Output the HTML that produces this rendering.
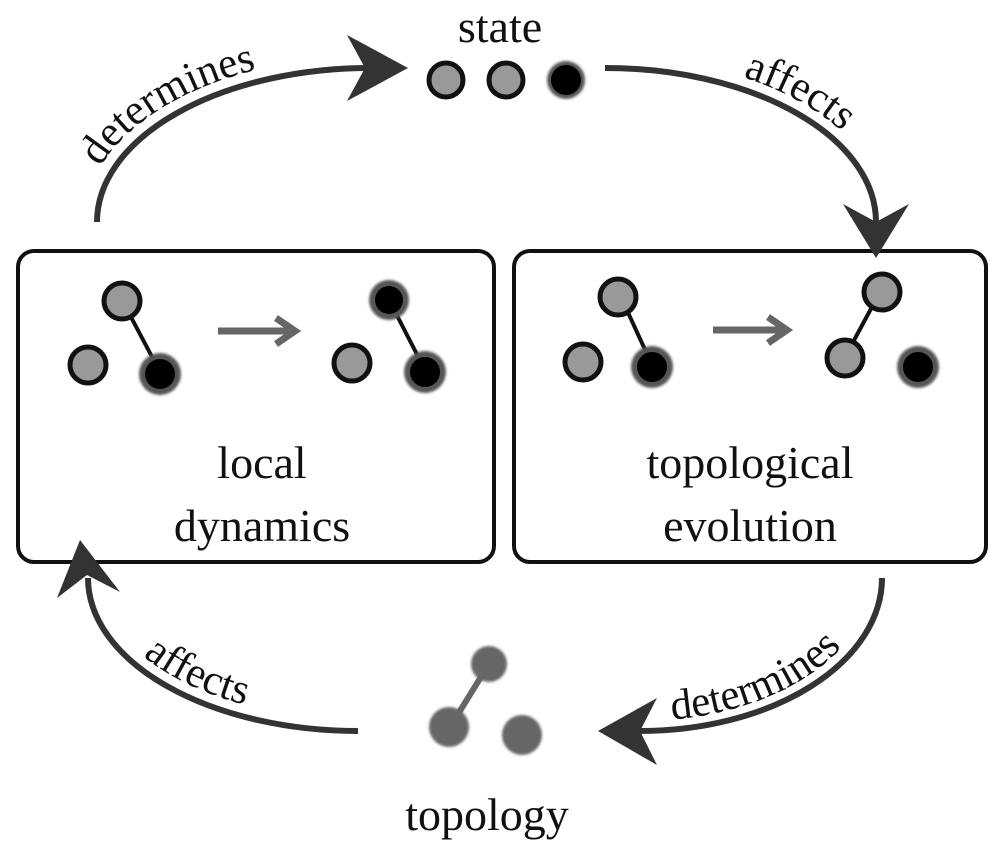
<!DOCTYPE html>
<html><head><meta charset="utf-8"><style>
html,body{margin:0;padding:0;background:#fff;}
svg{display:block;}
.t{font-family:"Liberation Serif","DejaVu Serif",serif;}
</style></head><body>
<svg width="997" height="847" viewBox="0 0 997 847" xmlns="http://www.w3.org/2000/svg">
<defs>
<filter id="b" x="-50%" y="-50%" width="200%" height="200%"><feGaussianBlur stdDeviation="1.2"/></filter>
<path id="p1" d="M84,222 A286,166 0 0 1 370,56"/>
<path id="p2" d="M605,56 A283,166 0 0 1 888,222"/>
<path id="p3" d="M640,721 A232,146 0 0 0 872,575"/>
<path id="p4" d="M100,578 A258,141 0 0 0 358,719"/>
</defs>
<rect x="18" y="251" width="476" height="311" rx="16" fill="#fff" stroke="#111" stroke-width="4"/>
<rect x="514" y="251" width="472" height="311" rx="16" fill="#fff" stroke="#111" stroke-width="4"/>

<g fill="none" stroke="#333" stroke-width="6">
<path d="M97,222 A273,154 0 0 1 370,68"/>
<path d="M605,68 A271,154 0 0 1 876,222"/>
<path d="M882,578 A242,153 0 0 1 640,731"/>
<path d="M358,731 A270,153 0 0 1 88,578"/>
</g>
<g fill="#333">
<path d="M408,68 L347,35 L365,68 L347,101 Z"/>
<path d="M876,258 L843,204 L876,222 L909,204 Z"/>
<path d="M598,731 L657,698 L640,731 L657,765 Z"/>
<path d="M80,540 L57,598 L87,575 L120,592 Z"/>
</g>

<text class="t" x="500" y="42" font-size="46" text-anchor="middle" fill="#111" style="font-family:'Liberation Serif','DejaVu Serif',serif">state</text>
<g stroke="#111" stroke-width="5" fill="#999">
<circle cx="446" cy="80" r="17"/>
<circle cx="506" cy="80" r="17"/>
</g>
<circle cx="566" cy="80" r="19" fill="#555" filter="url(#b)"/>
<circle cx="566" cy="80" r="15" fill="#000"/>

<g stroke="#111" stroke-width="4"><line x1="122" y1="300" x2="160" y2="372"/><line x1="388" y1="298" x2="425" y2="370"/>
<line x1="620" y1="295" x2="652" y2="365"/><line x1="880" y1="292" x2="845" y2="357"/></g>
<g stroke="#111" stroke-width="5" fill="#999">
<circle cx="122" cy="301" r="18"/>
<circle cx="88" cy="365" r="18"/>
<circle cx="352" cy="363" r="18"/>
<circle cx="618" cy="297" r="18"/>
<circle cx="583" cy="362" r="18"/>
<circle cx="882" cy="292" r="18"/>
<circle cx="845" cy="358" r="18"/>
</g>
<g fill="#555" filter="url(#b)">
<circle cx="160" cy="374" r="21"/><circle cx="389" cy="300" r="20"/><circle cx="425" cy="372" r="21"/>
<circle cx="652" cy="367" r="21"/><circle cx="918" cy="367" r="21"/>
</g>
<g fill="#000">
<circle cx="160" cy="374" r="15"/><circle cx="389" cy="300" r="14"/><circle cx="425" cy="372" r="15"/>
<circle cx="652" cy="367" r="15"/><circle cx="918" cy="367" r="15"/>
</g>
<g stroke="#666" stroke-width="7" fill="none">
<line x1="218" y1="331" x2="292" y2="331"/><path d="M276,318 L295,331 L276,344"/>
<line x1="713" y1="330" x2="784" y2="330"/><path d="M768,317 L787,330 L768,343"/>
</g>

<g class="t" fill="#111" font-size="46" text-anchor="middle" style="font-family:'Liberation Serif','DejaVu Serif',serif">
<text x="262" y="478">local</text>
<text x="262" y="541">dynamics</text>
<text x="750" y="478">topological</text>
<text x="750" y="541">evolution</text>
<text x="487" y="830">topology</text>
</g>

<line x1="489" y1="664" x2="450" y2="727" stroke="#666" stroke-width="6"/>
<g fill="#666" filter="url(#b)">
<circle cx="489" cy="664" r="18"/><circle cx="449" cy="727" r="20"/><circle cx="522" cy="735" r="20"/>
</g>

<g class="t" fill="#111" font-size="43" style="font-family:'Liberation Serif','DejaVu Serif',serif">
<text><textPath href="#p1" startOffset="58">determines</textPath></text>
<text><textPath href="#p2" startOffset="140">affects</textPath></text>
<text><textPath href="#p3" startOffset="32">determines</textPath></text>
<text><textPath href="#p4" startOffset="92">affects</textPath></text>
</g>
</svg>
</body></html>
